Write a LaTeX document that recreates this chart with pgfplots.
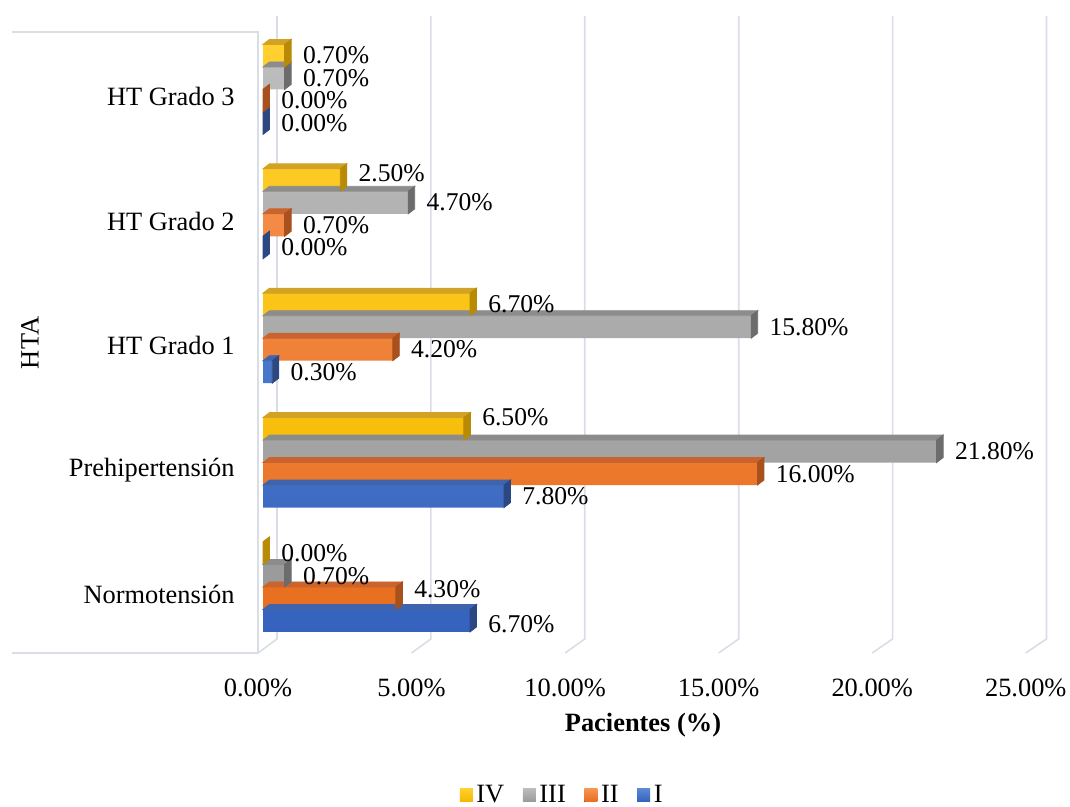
\documentclass[border=0pt]{standalone}
\usepackage{fontspec}
\setmainfont{Liberation Serif}
\usepackage{pgfplots}
\pgfplotsset{compat=1.18}
\usepackage{pgfplotstable}

\definecolor{gridc}{HTML}{D9DDE6}
% front face gradient (A top, B bottom), top face T, side face S
\definecolor{iA}{HTML}{5B8AD6}\definecolor{iB}{HTML}{3562BD}\definecolor{iT}{HTML}{3E64AE}\definecolor{iS}{HTML}{2B4883}
\definecolor{iiA}{HTML}{F79452}\definecolor{iiB}{HTML}{E86E1F}\definecolor{iiT}{HTML}{C9642E}\definecolor{iiS}{HTML}{A9501F}
\definecolor{iiiA}{HTML}{BCBCBC}\definecolor{iiiB}{HTML}{9A9A9A}\definecolor{iiiT}{HTML}{8C8C8C}\definecolor{iiiS}{HTML}{6C6C6C}
\definecolor{ivA}{HTML}{FFD030}\definecolor{ivB}{HTML}{F5B800}\definecolor{ivT}{HTML}{D2A224}\definecolor{ivS}{HTML}{B88A06}

\newcommand\fs{\fontsize{13.2}{15}\selectfont}
\newcommand\fsl{\fontsize{12.8}{15}\selectfont}

\pgfdeclareplotmark{blank}{}

% bar geometry (pt): unit per percent, bar thickness, depth offsets
\def\xu{15.45}
\def\bh{11.25}
\def\dx{3.25}
\def\dy{2.5}

\pgfplotsset{
  depth faces/.style n args={4}{% column, bar shift, top colour, side colour
    forget plot, only marks, mark=blank, scatter,
    visualization depends on={\thisrow{#1} \as \barval},
    scatter/@pre marker code/.code={%
      \pgfmathsetmacro\bw{\barval*\xu}%
      \pgfmathsetmacro\ylo{#2-\bh/2}%
      \pgfmathsetmacro\yhi{#2+\bh/2}%
      \fill[#3] (-\bw pt,\yhi pt) -- (0pt,\yhi pt) -- (\dx pt,\yhi pt+\dy pt)
                -- (-\bw pt+\dx pt,\yhi pt+\dy pt) -- cycle;
      \fill[#4] (0pt,\ylo pt) -- (\dx pt,\ylo pt+\dy pt) -- (\dx pt,\yhi pt+\dy pt)
                -- (0pt,\yhi pt) -- cycle;
    },
    scatter/@post marker code/.code={},
  },
  front bars/.style n args={3}{% bar shift, gradient top, gradient bottom
    xbar, bar width=\bh pt, bar shift=#1pt, draw=none,
    top color=#2, bottom color=#3,
  },
  value labels/.style n args={2}{% labels drawn last, above all faces; #2 = column of label nudges (pt)
    forget plot, only marks, mark=blank, point meta=explicit,
    visualization depends on={\thisrow{#2} \as \nudge},
    nodes near coords={\pgfmathprintnumber[fixed,fixed zerofill,precision=2]{\pgfplotspointmeta}\%},
    every node near coord/.append style={anchor=west, inner sep=0pt, xshift=9pt,
      yshift=#1pt, yshift=\nudge pt, font=\fsl, text=black},
  },
}

\pgfplotstableread{
cat I II III IV dI dII dIII dIV
0 6.7 4.3 0.7 0.0 -1.75 4.5 0 0
1 7.8 16.0 21.8 6.5 0 0 0 6
2 0.3 4.2 15.8 6.7 0 0 0 0
3 0.0 0.7 4.7 2.5 0 0 0 3.5
4 0.0 0.0 0.7 0.7 0 0 0 0
}\datatable

\begin{document}
\begin{tikzpicture}
\useasboundingbox (0,0) rectangle (535pt,403.5pt);
\begin{axis}[
  at={(128.41pt,77pt)}, anchor=south west,
  scale only axis, x=15.45pt, y=62.19pt,
  xmin=-0.2, xmax=25, ymin=-0.531, ymax=4.591,
  clip=false,
  axis line style={draw=none},
  major tick length=0pt,
  /pgf/number format/assume math mode=true,
  ytick={0,...,4},
  yticklabels={Normotensión,Prehipertensión,HT Grado 1,HT Grado 2,HT Grado 3},
  yticklabel style={anchor=east, inner sep=0pt, xshift=-10.91pt, yshift=-3.7pt, font=\fs},
  xtick={-0.162,4.807,9.777,14.746,19.715,24.684},
  xticklabels={0.00\%,5.00\%,10.00\%,15.00\%,20.00\%,25.00\%},
  xticklabel style={anchor=center, inner sep=0pt, yshift=-17.5pt, font=\fs},
  xlabel={Pacientes (\%)},
  every axis x label/.style={at={(axis description cs:0.4959,-0.113)}, anchor=center, font=\fs\bfseries},
  ylabel={HTA},
  every axis y label/.style={at={(axis description cs:-0.2913,0.4867)}, anchor=center, rotate=90, font=\fs},
  legend style={at={(axis description cs:0.3932,-0.2229)}, anchor=center, draw=none, fill=none,
    font=\fs, legend columns=-1, nodes={inner sep=1.8pt},
    /tikz/every even column/.append style={column sep=7.5pt}},
  legend image code/.code={\fill[#1] (0pt,-3.25pt) rectangle (6.5pt,3.25pt);},
  reverse legend,
]
% side wall and floor edge
\draw[gridc, line width=0.8pt] (axis cs:-8.12,4.462) -- (axis cs:-0.162,4.462)
  -- (axis cs:-0.162,-0.531) -- (axis cs:-8.12,-0.531);
% back-wall gridlines bending onto the floor
\draw[gridc, line width=0.8pt] (axis cs:0.453,4.591) -- (axis cs:0.453,-0.418) -- (axis cs:-0.162,-0.531);
\draw[gridc, line width=0.8pt] (axis cs:5.434,4.591) -- (axis cs:5.434,-0.418) -- (axis cs:4.807,-0.531);
\draw[gridc, line width=0.8pt] (axis cs:10.414,4.591) -- (axis cs:10.414,-0.418) -- (axis cs:9.777,-0.531);
\draw[gridc, line width=0.8pt] (axis cs:15.395,4.591) -- (axis cs:15.395,-0.418) -- (axis cs:14.746,-0.531);
\draw[gridc, line width=0.8pt] (axis cs:20.375,4.591) -- (axis cs:20.375,-0.418) -- (axis cs:19.715,-0.531);
\draw[gridc, line width=0.8pt] (axis cs:25.356,4.591) -- (axis cs:25.356,-0.418) -- (axis cs:24.684,-0.531);

% series I
\addplot[depth faces={I}{-16.875}{iT}{iS}] table[x=I,y=cat]{\datatable};
\addplot[front bars={-16.875}{iA}{iB}] table[x=I,y=cat]{\datatable};
\addlegendentry{I}
% series II
\addplot[depth faces={II}{-5.625}{iiT}{iiS}] table[x=II,y=cat]{\datatable};
\addplot[front bars={-5.625}{iiA}{iiB}] table[x=II,y=cat]{\datatable};
\addlegendentry{II}
% series III
\addplot[depth faces={III}{5.625}{iiiT}{iiiS}] table[x=III,y=cat]{\datatable};
\addplot[front bars={5.625}{iiiA}{iiiB}] table[x=III,y=cat]{\datatable};
\addlegendentry{III}
% series IV
\addplot[depth faces={IV}{16.875}{ivT}{ivS}] table[x=IV,y=cat]{\datatable};
\addplot[front bars={16.875}{ivA}{ivB}] table[x=IV,y=cat]{\datatable};
\addlegendentry{IV}

% value labels
\addplot[value labels={-16.875}{dI}] table[x=I,y=cat,meta=I]{\datatable};
\addplot[value labels={-5.625}{dII}] table[x=II,y=cat,meta=II]{\datatable};
\addplot[value labels={5.625}{dIII}] table[x=III,y=cat,meta=III]{\datatable};
\addplot[value labels={16.875}{dIV}] table[x=IV,y=cat,meta=IV]{\datatable};
\end{axis}
\end{tikzpicture}
\end{document}
